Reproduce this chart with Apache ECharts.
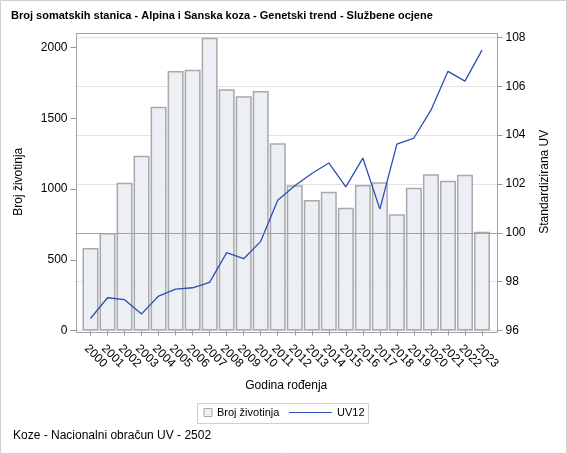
<!DOCTYPE html>
<html>
<head>
<meta charset="utf-8">
<script src="https://cdn.jsdelivr.net/npm/echarts@6/dist/echarts.min.js"></script>
<style>
html,body{margin:0;padding:0;background:#fff;}
#c{width:567px;height:454px;}
</style>
</head>
<body>
<div id="c"></div>
<script>
const years = ['2000','2001','2002','2003','2004','2005','2006','2007','2008','2009','2010','2011','2012','2013','2014','2015','2016','2017','2018','2019','2020','2021','2022','2023'];
const brojZivotinja = [583,689,1045,1236,1583,1835,1844,2071,1706,1656,1694,1324,1027,923,982,868,1029,1048,822,1010,1105,1059,1102,699];
const uv12 = [96.49,97.34,97.26,96.68,97.41,97.69,97.75,97.97,99.19,98.94,99.65,101.33,101.93,102.43,102.86,101.88,103.06,100.97,103.63,103.88,105.02,106.61,106.21,107.48];
const leftTicks = {min:0, max:2104, interval:500};
const rightTicks = {min:96, max:108.18, interval:2};
const referenceValue = 100;

const FONT = 'Liberation Sans, Arial, sans-serif';
const chart = echarts.init(document.getElementById('c'), null, {renderer:'canvas'});
chart.setOption({
  animation:false,
  textStyle:{fontFamily:FONT},
  title:[
    {text:'Broj somatskih stanica - Alpina i Sanska koza - Genetski trend - Službene ocjene', left:11, top:10, padding:0,
     textStyle:{fontFamily:FONT, fontSize:11, fontWeight:'bold', color:'#000'}},
    {text:'Koze - Nacionalni obračun UV - 2502', left:13, top:430, padding:0,
     textStyle:{fontFamily:FONT, fontSize:12, fontWeight:'normal', color:'#000'}}
  ],
  legend:[
    {data:[{name:'Broj životinja', icon:'rect'}], left:203.5, top:407, padding:0, itemWidth:8, itemHeight:8, selectedMode:false,
     itemStyle:{borderWidth:1},
     textStyle:{fontFamily:FONT, fontSize:11, color:'#000'}},
    {data:[{name:'UV12', icon:'path://M0,0 H43 V1 H0 Z'}], left:289, top:407, padding:0, itemWidth:43, itemHeight:10, selectedMode:false,
     textStyle:{fontFamily:FONT, fontSize:11, color:'#000'}}
  ],
  grid:[
    {left:82, right:76.5, top:33, bottom:123.5},
    {left:76.5, right:69.5, top:33, bottom:123.5}
  ],
  xAxis:[
    {type:'category', gridIndex:0, data:years, offset:2,
     axisLine:{show:false},
     axisTick:{show:true, alignWithLabel:true, length:5, lineStyle:{color:'#999'}},
     axisLabel:{rotate:-45, interval:0, fontSize:12, color:'#000', margin:10, verticalAlign:'top', fontFamily:FONT},
     name:'Godina rođenja', nameLocation:'middle', nameGap:47,
     nameTextStyle:{fontSize:12, color:'#000', fontFamily:FONT}},
    {type:'value', gridIndex:1, min:0, max:1, show:false}
  ],
  yAxis:[
    {type:'value', gridIndex:0, position:'left', min:leftTicks.min, max:leftTicks.max, interval:leftTicks.interval, offset:5.5,
     axisLine:{show:false},
     axisTick:{show:true, length:6, lineStyle:{color:'#999'}},
     axisLabel:{fontSize:12, color:'#000', margin:9, showMaxLabel:false, fontFamily:FONT, formatter:function(v){return String(v);}},
     splitLine:{show:false},
     name:'Broj životinja', nameLocation:'middle', nameGap:52,
     nameTextStyle:{fontSize:12, color:'#000', fontFamily:FONT}},
    {type:'value', gridIndex:0, position:'right', min:rightTicks.min, max:rightTicks.max, interval:rightTicks.interval, offset:7,
     axisLine:{show:false},
     axisTick:{show:true, length:5, lineStyle:{color:'#999'}},
     axisLabel:{fontSize:12, color:'#000', margin:8, showMaxLabel:false, fontFamily:FONT, formatter:function(v){return String(v);}},
     splitLine:{show:false},
     name:'Standardizirana UV', nameLocation:'middle', nameGap:41,
     nameTextStyle:{fontSize:12, color:'#000', fontFamily:FONT}},
    {type:'value', gridIndex:1, min:rightTicks.min, max:rightTicks.max, interval:rightTicks.interval,
     axisLine:{show:false}, axisTick:{show:false}, axisLabel:{show:false},
     splitLine:{show:true, lineStyle:{color:'#e3e3e3', width:1}}}
  ],
  series:[
    {name:'Broj životinja', type:'bar', xAxisIndex:0, yAxisIndex:0, data:brojZivotinja,
     barCategoryGap:'6%', z:2,
     itemStyle:{color:'#eceff4', borderColor:'#a9a9a9', borderWidth:1.5}},
    {name:'UV12', type:'line', xAxisIndex:0, yAxisIndex:1, data:uv12, symbol:'none', z:4,
     lineStyle:{color:'#2a50b6', width:1.3}, itemStyle:{color:'#2a50b6'}},
    {name:'ref', type:'line', xAxisIndex:1, yAxisIndex:2, data:[], z:3,
     markLine:{silent:true, symbol:'none', label:{show:false},
       lineStyle:{color:'#a3a3a3', width:1, type:'solid'},
       data:[{yAxis:referenceValue}]}}
  ],
  graphic:[
    {type:'rect', silent:true, z:100, shape:{x:0.5, y:0.5, width:566, height:453},
     style:{fill:'none', stroke:'#cfcfcf', lineWidth:1}},
    {type:'rect', silent:true, z:100, shape:{x:76.5, y:33.5, width:421, height:299},
     style:{fill:'none', stroke:'#a0a0a0', lineWidth:1}},
    {type:'rect', silent:true, z:100, shape:{x:197.5, y:403.5, width:171, height:20},
     style:{fill:'none', stroke:'#cfcfcf', lineWidth:1}}
  ]
});
</script>
</body>
</html>
